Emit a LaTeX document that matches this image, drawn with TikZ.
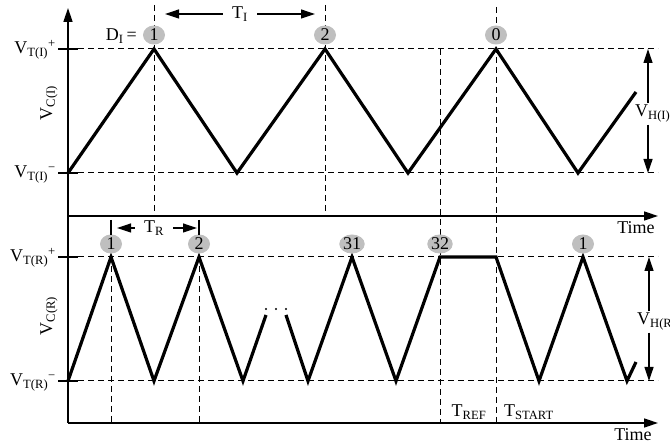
\documentclass[tikz,border=0pt]{standalone}
\usepackage{fontspec}
\setmainfont{Liberation Serif}
\usetikzlibrary{arrows.meta,shapes.geometric}
\tikzset{wave/.style={line width=3.2pt},
  level/.style={dashed, dash pattern=on 6pt off 4pt, line width=1pt},
  axisline/.style={line width=1.5pt},
  axisarr/.style={axisline, -{Triangle[length=14pt,width=9pt]}},
  dimarr/.style={line width=1.2pt, -{Triangle[length=14pt,width=9pt]}},
  count/.style={ellipse, fill=black!25, minimum width=22pt, minimum height=19pt,
    inner sep=0pt, font=\fontsize{18}{20}\selectfont},
  lbl/.style={font=\fontsize{18}{20}\selectfont, inner sep=2pt}}

\begin{document}
\begin{tikzpicture}[x=1pt,y=-1pt]
  \useasboundingbox (0,0) rectangle (670,446);
  % threshold levels, with a short solid tick on the y axis
  \foreach \y in {49,173,257,381} {
    \draw[level] (78,\y) -- (658,\y);
    \draw[axisline] (58,\y) -- (78,\y);
  }
  % time marks
  \draw[level] (154,5) -- (154,216);
  \draw[level] (325,5) -- (325,216);
  \draw[level] (496,7) -- (496,423);
  \draw[level] (440,49) -- (440,423);
  \draw[level] (111,236) -- (111,423);
  \draw[level] (199,236) -- (199,423);
  % axes
  \draw[axisarr] (68,423) -- (68,8);
  \draw[axisarr] (68,216) -- (658,216);
  \draw[axisarr] (68,423) -- (658,423);

  % integrating ramp, top
  \draw[wave] (68,173) -- (154,49) -- (237,173) -- (325,49) -- (408,173)
    -- (496,49) -- (578,173) -- (636,92);
  % reference ramp, bottom (broken at the dots)
  \draw[wave] (68,381) -- (111,257) -- (154,381) -- (199,257) -- (243,381)
    -- (266,315);
  \draw[wave] (286,315) -- (308,381) -- (352,257) -- (396,381) -- (440,257)
    -- (496,257) -- (539,381) -- (583,257) -- (627,381) -- (636,362);
  \foreach \x in {266,276,286} \fill (\x,309) circle (1.2pt);

  % counts
  \node[count] (cI1) at (154,35) {1};
  \node[count] (cI2) at (325,35) {2};
  \node[count] (cI0) at (496,35) {0};
  \node[count] (cR1) at (111,244) {1};
  \node[count] (cR2) at (199,244) {2};
  \node[count] (cR31) at (352,244) {31};
  \node[count] (cR32) at (440,244) {32};
  \node[count] (cR1b) at (583,244) {1};
  \node[lbl, anchor=base east] (dI) at (139,41) {D\textsubscript{I}\,=};

  % level labels
  \node[lbl, anchor=base east] (vtip) at (58,54) {V\textsubscript{T(I)}\textsuperscript{+}};
  \node[lbl, anchor=base east] (vtim) at (58,178) {V\textsubscript{T(I)}\textsuperscript{−}};
  \node[lbl, anchor=base east] (vtrp) at (58,262) {V\textsubscript{T(R)}\textsuperscript{+}};
  \node[lbl, anchor=base east] (vtrm) at (58,386) {V\textsubscript{T(R)}\textsuperscript{−}};
  \node[lbl, rotate=90] (vci) at (49,103) {V\textsubscript{C(I)}};
  \node[lbl, rotate=90] (vcr) at (49,316) {V\textsubscript{C(R)}};
  \node[lbl] (timeI) at (636,228) {Time};
  \node[lbl] (timeR) at (633,435) {Time};
  \node[lbl] (tref) at (469,412) {T\textsubscript{REF}};
  \node[lbl] (tstart) at (529,412) {T\textsubscript{START}};

  % periods
  \node[lbl, inner xsep=9pt] (TI) at (240,14) {T\textsubscript{I}};
  \coordinate (tiL) at (165,14);
  \coordinate (tiR) at (315,14);
  \draw[dimarr] (TI) -- (tiL);
  \draw[dimarr] (TI) -- (tiR);
  \node[lbl, inner xsep=9pt] (TR) at (154,228) {T\textsubscript{R}};
  \coordinate (trL) at (117,228);
  \coordinate (trR) at (197,228);
  \draw[dimarr] (TR) -- (trL);
  \draw[dimarr] (TR) -- (trR);
  \draw[axisline] (111,220) -- (111,235);
  \draw[axisline] (199,220) -- (199,235);

  % hysteresis spans
  \node[lbl, anchor=base west] (vhi) at (633,117) {V\textsubscript{H(I)}};
  \coordinate (vhiT) at (648,49);
  \coordinate (vhiB) at (648,173);
  \draw[dimarr] (vhiT |- vhi.north) -- (vhiT);
  \draw[dimarr] (vhiB |- vhi.south) -- (vhiB);
  \node[lbl, anchor=base west] (vhr) at (635,325) {V\textsubscript{H(R)}};
  \coordinate (vhrT) at (649,257);
  \coordinate (vhrB) at (649,381);
  \draw[dimarr] (vhrT |- vhr.north) -- (vhrT);
  \draw[dimarr] (vhrB |- vhr.south) -- (vhrB);
\end{tikzpicture}
\end{document}
